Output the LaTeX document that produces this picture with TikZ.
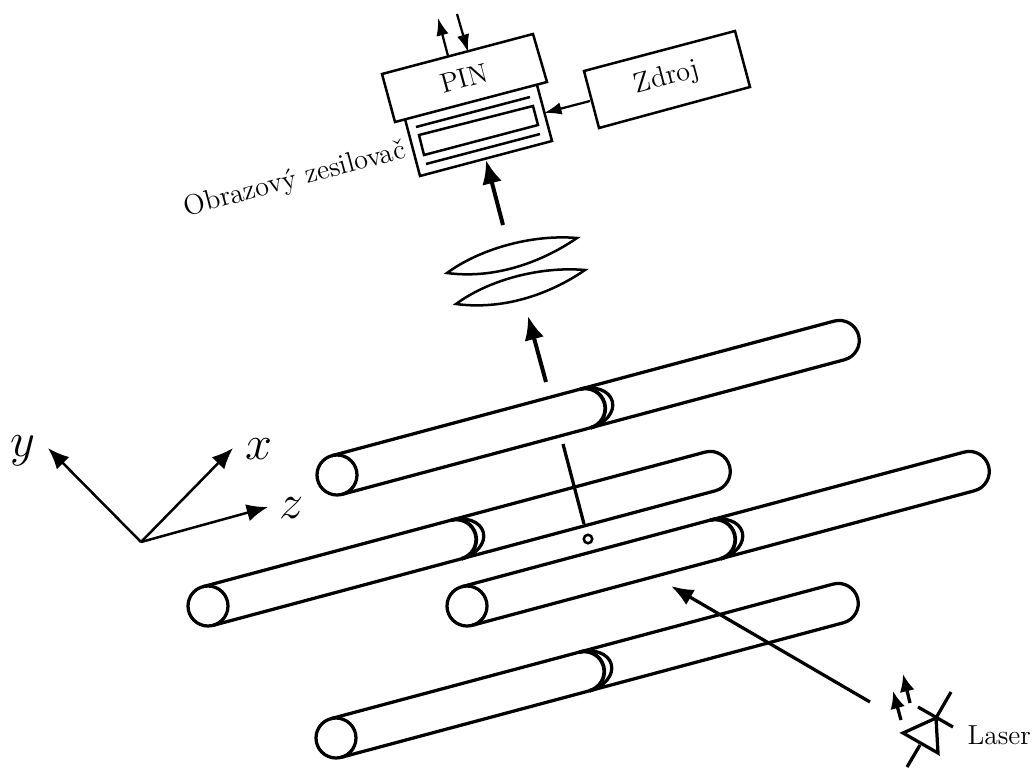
\documentclass[tikz,border=0pt]{standalone}
\usetikzlibrary{arrows.meta}
\tikzset{
  x=0.4pt,y=-0.4pt,
  medline/.style={line width=1pt},
  rodline/.style={line width=1.3pt},
  axisarrow/.style={line width=1pt,-{Latex[length=8.5pt,width=7pt]}},
  smallarrow/.style={line width=0.9pt,-{Latex[length=7pt,width=5pt]}},
  beamarrow/.style={line width=1.6pt,-{Latex[length=9.5pt,width=8pt]}},
  ledarrow/.style={line width=1.3pt,-{Latex[length=7pt,width=6pt]}},
  label15/.style={rotate=15,inner sep=0pt},
  axislabel/.style={inner sep=0pt,font=\LARGE},
}
\newcommand{\rodshape}[3]{%
  \begin{scope}[shift={(#1,#2)},rotate=15,rodline,name prefix=#3]
    \node[circle,draw,rodline,minimum size=16pt,inner sep=0pt,outer sep=0pt] (end) at (0,0) {};
    \draw (0,-20) -- (520,-20) arc[start angle=90,end angle=-90,radius=8pt] -- (0,20);
    \draw[line width=1.5pt] (257,-20) arc[start angle=90,end angle=-90,radius=8pt];
    \draw (257,-20) arc[start angle=90,end angle=-90,x radius=11.2pt,y radius=8pt];
  \end{scope}}
\begin{document}
\begin{tikzpicture}
\useasboundingbox (0,0) rectangle (1032,767);
% rods
\rodshape{337}{475}{a}
\rodshape{208}{606}{b}
\rodshape{467}{606}{c}
\rodshape{336}{738}{d}
% axes
\coordinate (o) at (141,542);
\node[axislabel] (ly) at (23,451) {\scalebox{1.12}{$y$}};
\node[axislabel] (lx) at (259,449) {\scalebox{1.12}{$x$}};
\node[axislabel] (lz) at (292,508) {\scalebox{1.12}{$z$}};
\coordinate (ty) at (48,448);
\coordinate (tx) at (233,448);
\coordinate (tz) at (268,507);
\draw[axisarrow] (o) -- (ty);
\draw[axisarrow] (o) -- (tx);
\draw[axisarrow] (o) -- (tz);
% sample
\node[circle,draw,line width=1pt,minimum size=3.4pt,inner sep=0pt] (spot) at (588,539) {};
\coordinate (s1) at (563,444);
\coordinate (s2) at (584,524);
\draw[rodline] (s1) -- (s2);
% beams
\coordinate (b1t) at (546,382);
\coordinate (b1h) at (528,316);
\coordinate (b2t) at (503,225);
\coordinate (b2h) at (486,160);
\draw[beamarrow] (b1t) -- (b1h);
\draw[beamarrow] (b2t) -- (b2h);
% lenses
\draw[medline] (447,273) .. controls (478,250) and (530,234) .. (577,238)
   .. controls (548,258) and (500,280) .. cycle;
\draw[medline] (456,304) .. controls (487,281) and (538,266) .. (585,270)
   .. controls (556,290) and (509,311) .. cycle;
% intensifier
\draw[medline] (405,119) -- (420,176) -- (552,141) -- (537,85);
\draw[medline] (416,127) -- (530,97);
\draw[medline] (419,135) -- (533,106) -- (538,125) -- (424,155) -- cycle;
\draw[medline] (426,164) -- (540,134);
% PIN
\draw[medline] (382,74) -- (533,34) -- (547,82) -- (395,122) -- cycle;
\node[label15,font=\fontsize{11}{13}\selectfont] (pin) at (464,78) {PIN};
\coordinate (p1) at (448,56);
\coordinate (p2) at (438,18);
\coordinate (p3) at (457,14);
\coordinate (p4) at (468,52);
\draw[smallarrow] (p1) -- (p2);
\draw[smallarrow] (p3) -- (p4);
% Zdroj
\draw[medline] (584,71) -- (735,31) -- (750,87) -- (599,128) -- cycle;
\node[label15,font=\fontsize{11.3}{13}\selectfont] (zd) at (667,78) {Zdroj};
\coordinate (z1) at (590,101);
\coordinate (z2) at (544,113);
\draw[smallarrow] (z1) -- (z2);
\node[label15,font=\fontsize{11.3}{13}\selectfont] (oz) at (295,180) {Obrazov\'y zesilova\v{c}};
% laser
\coordinate (lt) at (870,702);
\coordinate (lh) at (671,586);
\draw[line width=1.3pt,-{Latex[length=9pt,width=7pt]}] (lt) -- (lh);
\draw[rodline] (903,733) -- (936,718) -- (938,753) -- cycle;
\draw[rodline] (918,707) -- (953,727);
\draw[rodline] (936,718) -- (951,692);
\draw[rodline] (920,745) -- (907,767);
\coordinate (a1) at (901,720);
\coordinate (a2) at (893,691);
\coordinate (a3) at (910,703);
\coordinate (a4) at (903,674);
\draw[ledarrow] (a1) -- (a2);
\draw[ledarrow] (a3) -- (a4);
\node[inner sep=0pt,anchor=west,font=\fontsize{11}{13}\selectfont] (las) at (967,735) {Laser};
\end{tikzpicture}
\end{document}
